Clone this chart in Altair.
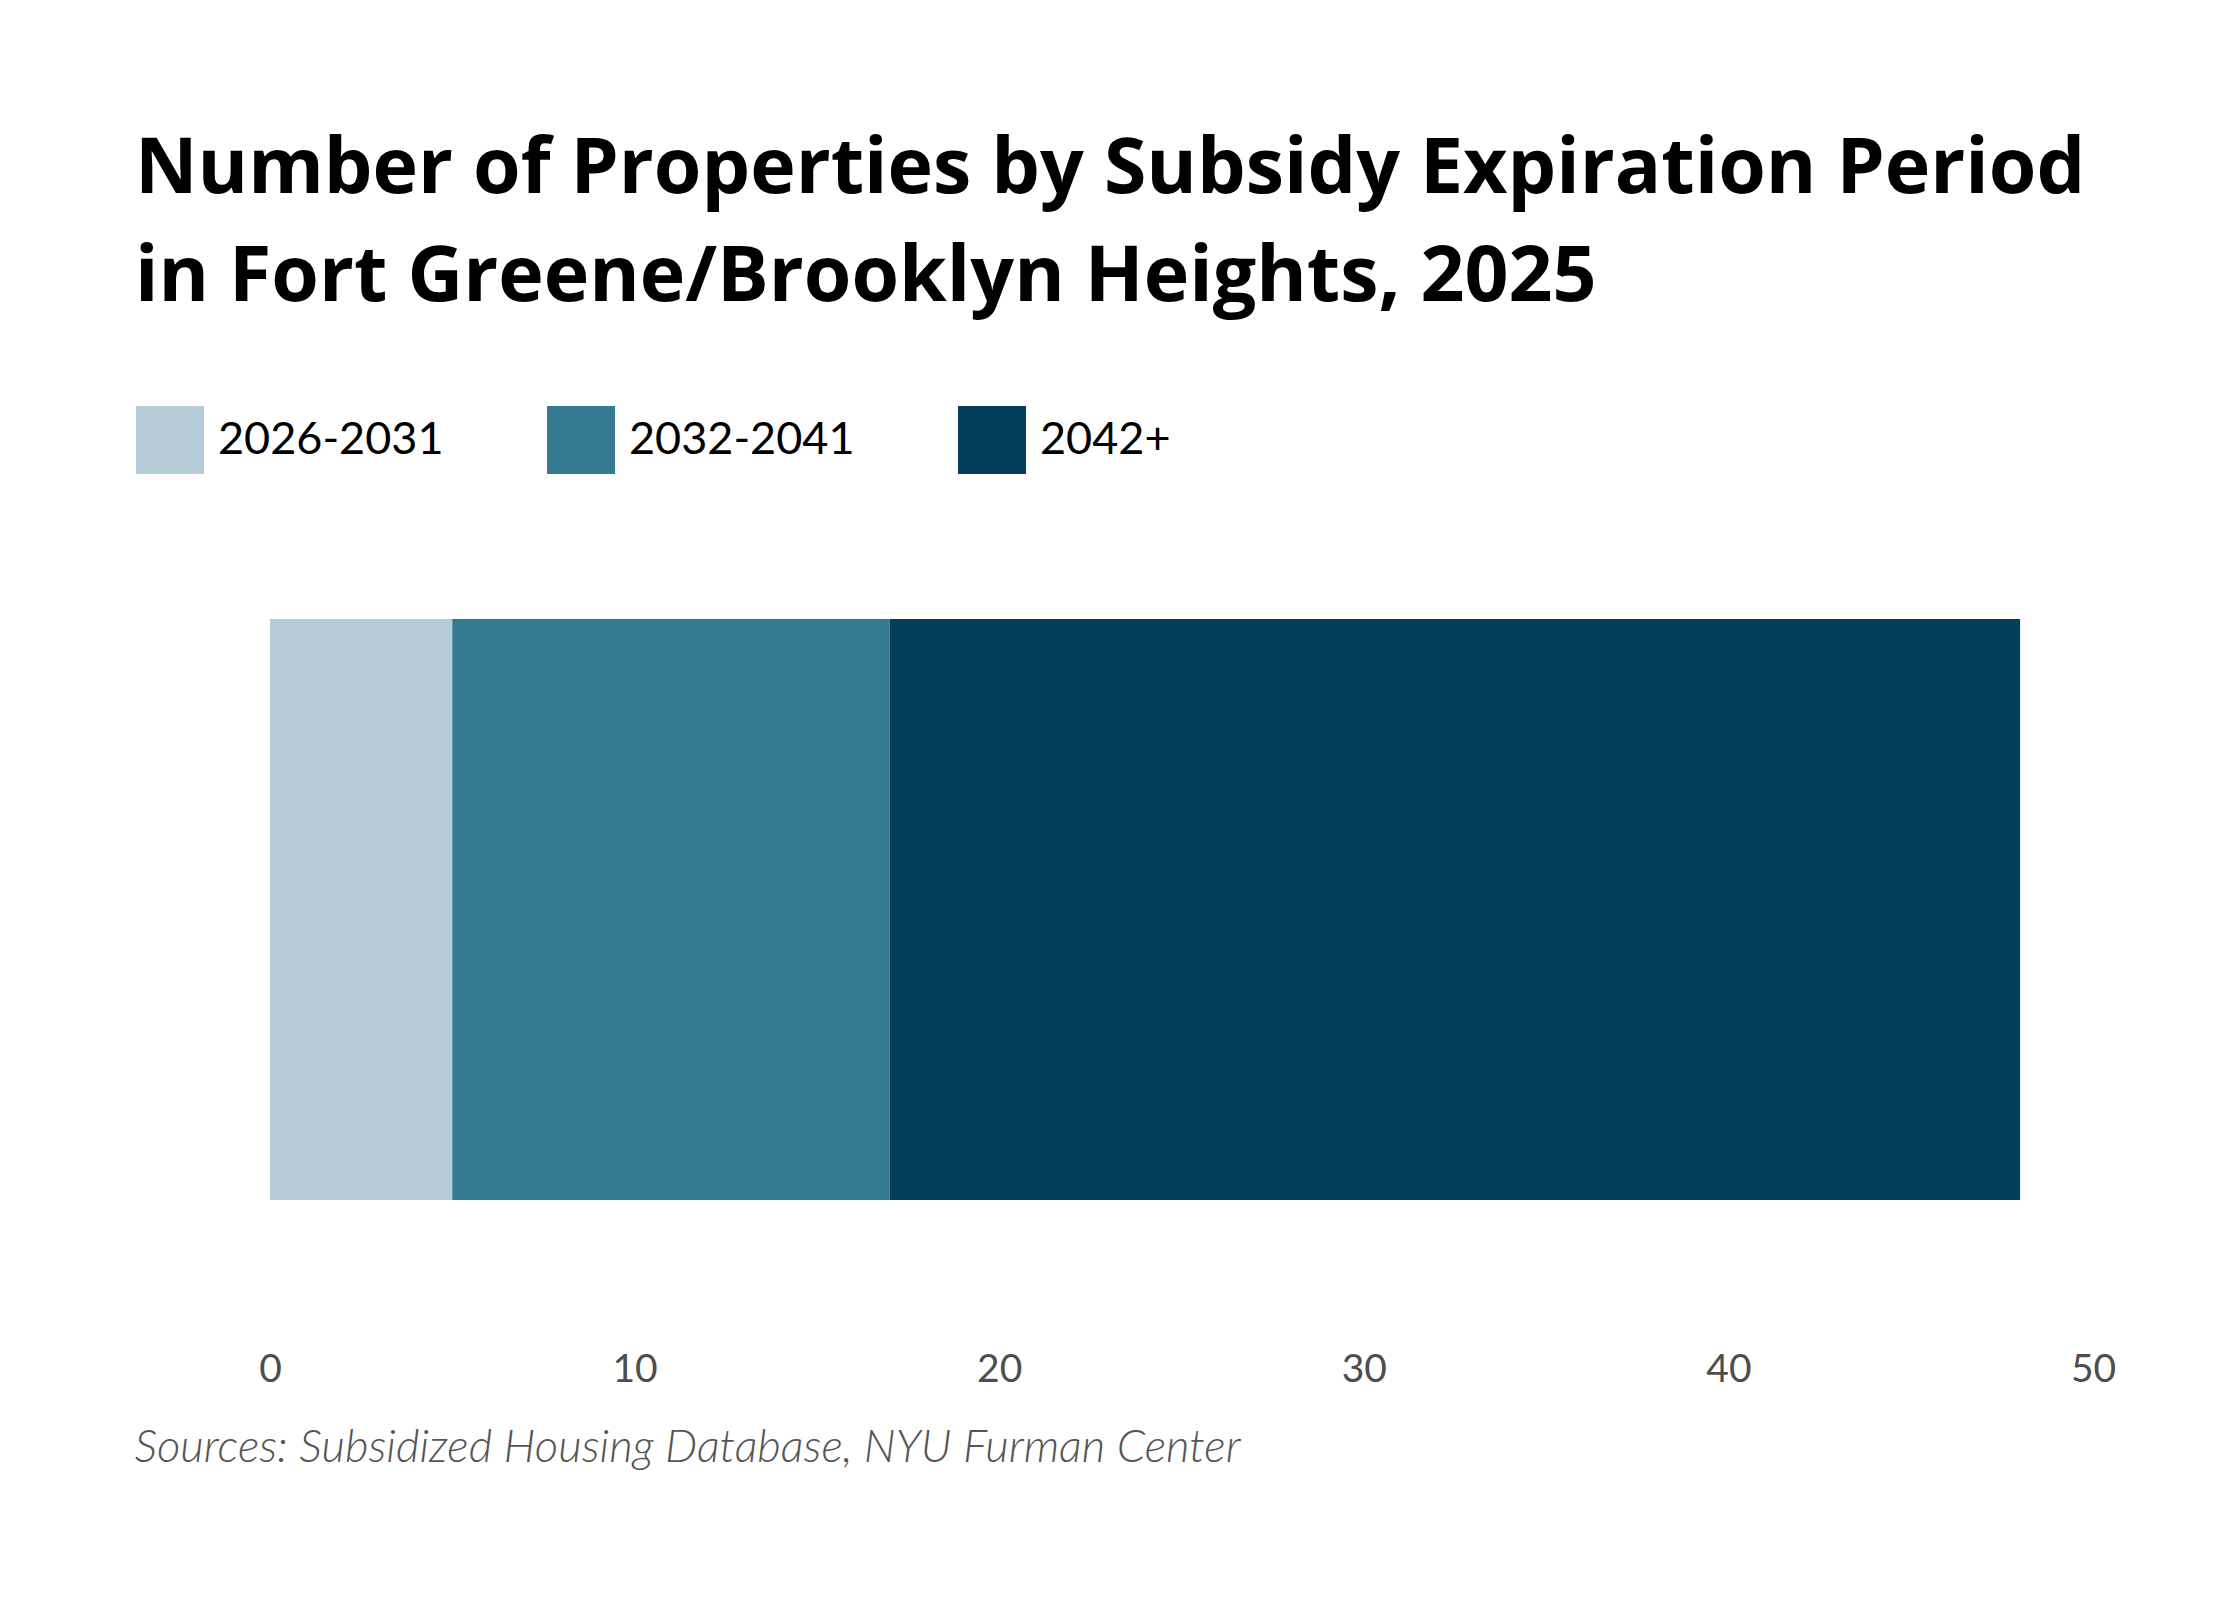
import altair as alt
import pandas as pd

# Data
periods = ["2026-2031", "2032-2041", "2042+"]
counts = [5, 12, 31]
colors = ["#b4ccd6", "#347a90", "#023f5a"]
x_ticks = [0, 10, 20, 30, 40, 50]
title_lines = ["Number of Properties by Subsidy Expiration Period",
               "in Fort Greene/Brooklyn Heights, 2025"]
source = "Sources: Subsidized Housing Database, NYU Furman Center"

df = pd.DataFrame({
    "area": ["Fort Greene/Brooklyn Heights"] * len(periods),
    "period": periods,
    "count": counts,
    "order": list(range(len(periods))),
})

chart = alt.Chart(df).mark_bar().encode(
    x=alt.X("count:Q", stack="zero",
            scale=alt.Scale(domain=[0, 50], nice=False),
            axis=alt.Axis(values=x_ticks, grid=False, domain=False, ticks=False,
                          labelFlush=False, labelFont="Lato", labelFontSize=39,
                          labelColor="#4d4d4d", labelPadding=150, labelBaseline="top",
                          title=source, titleFont="Lato", titleFontSize=45.5,
                          titleFontStyle="italic", titleFontWeight=300,
                          titleColor="#555555", titleAlign="left", titleBaseline="middle",
                          titleX=-136, titleY=247, titleAnchor="start")),
    y=alt.Y("area:N", axis=None, scale=alt.Scale(paddingInner=0, paddingOuter=0)),
    color=alt.Color("period:N",
                    scale=alt.Scale(domain=periods, range=colors),
                    legend=alt.Legend(title=None, orient="none", direction="horizontal",
                                      legendX=-134, legendY=-213, padding=0,
                                      symbolType="square", symbolSize=4624,
                                      symbolStrokeWidth=0, symbolOpacity=1,
                                      labelFont="Lato", labelFontSize=45,
                                      labelColor="#000000", labelOffset=14,
                                      columnPadding=103, labelLimit=400)),
    order=alt.Order("order:Q"),
).properties(
    width=1823,
    height=581,
    padding={"left": 262, "top": 611, "right": 120, "bottom": 360},
    autosize=alt.AutoSizeParams(type="none"),
    title=alt.TitleParams(text=title_lines, anchor="start", frame="group",
                          font="Open Sans", fontSize=77, fontWeight="bold",
                          color="#000000", lineHeight=108, dx=-135, offset=89),
).configure_view(stroke=None)

chart.save("out.html", embed_options={"renderer": "svg", "actions": False})
